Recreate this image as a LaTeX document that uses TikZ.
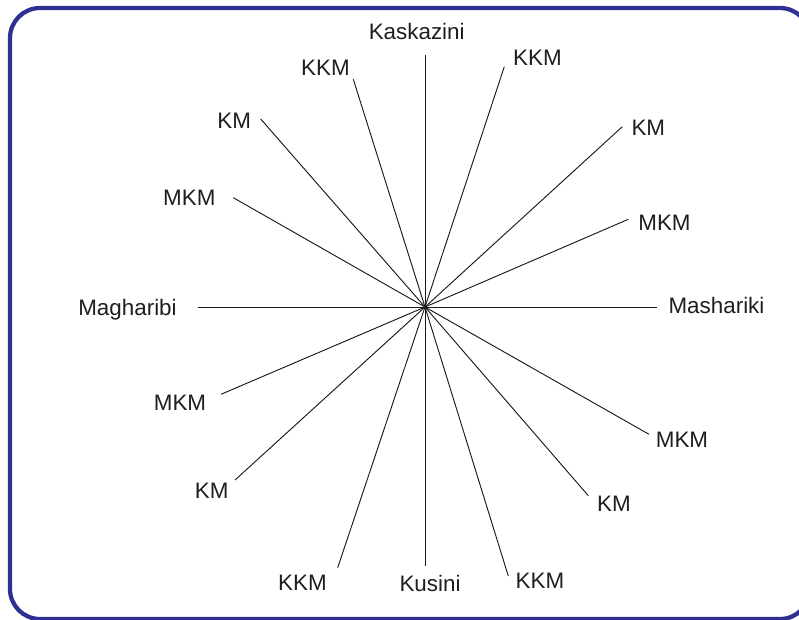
\documentclass[tikz,border=0pt]{standalone}
\usepackage{fontspec}
\setmainfont{Liberation Sans}
\definecolor{framecol}{RGB}{46,49,146}
\definecolor{txtcol}{RGB}{30,30,30}
\begin{document}
\begin{tikzpicture}[x=0.75pt,y=-0.75pt,
  lbl/.style={anchor=base,inner sep=0pt,text=txtcol,font=\fontsize{16.8pt}{19pt}\selectfont},
  ray/.style={draw=black!90,line width=0.7pt},
  frame/.style={draw=framecol,line width=3.2pt,rounded corners=22.5pt}]
\useasboundingbox (0,0) rectangle (799,619);
\clip (0,0) rectangle (799,619);
\draw[frame] (10,8) rectangle (810,619);
% centre and ray ends
\coordinate (O) at (425,307);
\coordinate (eN) at (425,55);
\coordinate (eNNE) at (504.3,66.7);
\coordinate (eNE) at (622.3,126.7);
\coordinate (eENE) at (628.3,219.3);
\coordinate (eE) at (656.7,307);
\coordinate (eESE) at (649,434.3);
\coordinate (eSE) at (588.3,495.7);
\coordinate (eSSE) at (508.3,576);
\coordinate (eS) at (425,566);
\coordinate (eSSW) at (337.7,567.7);
\coordinate (eSW) at (235,480);
\coordinate (eWSW) at (221,394.3);
\coordinate (eW) at (198.3,307);
\coordinate (eWNW) at (233.3,197.7);
\coordinate (eNW) at (260.7,119);
\coordinate (eNNW) at (353.3,79.3);
\foreach \e in {eN,eNNE,eNE,eENE,eE,eESE,eSE,eSSE,eS,eSSW,eSW,eWSW,eW,eWNW,eNW,eNNW}
  \draw[ray] (O) -- (\e);
% labels
\node[lbl] (lN) at (416.7,39.3) {Kaskazini};
\node[lbl] (lNNW) at (325.5,75) {KKM};
\node[lbl] (lNNE) at (537.5,65) {KKM};
\node[lbl] (lNE) at (648.3,135.7) {KM};
\node[lbl] (lENE) at (664.5,230) {MKM};
\node[lbl] (lE) at (716.5,313.3) {Mashariki};
\node[lbl] (lESE) at (682,447.7) {MKM};
\node[lbl] (lSE) at (614,511.7) {KM};
\node[lbl] (lSSE) at (540,588.3) {KKM};
\node[lbl] (lS) at (430,591.7) {Kusini};
\node[lbl] (lSSW) at (302.5,590) {KKM};
\node[lbl] (lSW) at (211.7,498.3) {KM};
\node[lbl] (lWSW) at (180,410) {MKM};
\node[lbl] (lW) at (127.5,315.7) {Magharibi};
\node[lbl] (lWNW) at (189.3,205) {MKM};
\node[lbl] (lNW) at (234.2,128.3) {KM};
\end{tikzpicture}
\end{document}
